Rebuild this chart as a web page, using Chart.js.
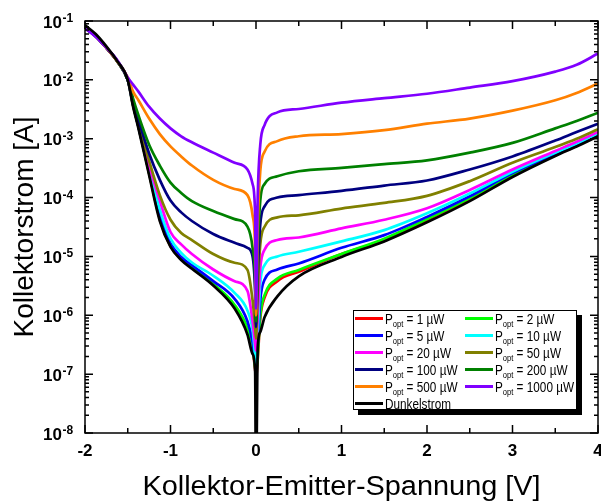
<!DOCTYPE html>
<html>
<head>
<meta charset="utf-8">
<script src="https://cdn.jsdelivr.net/npm/chart.js@4.4.1/dist/chart.umd.min.js"></script>
<style>
  html, body { margin: 0; padding: 0; background: #fff; }
</style>
</head>
<body>
<canvas id="c" width="601" height="503"></canvas>
<script>
// Kollektor-Emitter-Spannung [V]
const volts = [-2, -1.875, -1.75, -1.625, -1.5, -1.4375, -1.375, -1.25, -1.125, -1, -0.875, -0.75, -0.5, -0.25,
               -0.1, -0.04, -0.01, 0, 0.02, 0.05, 0.1, 0.25, 0.5, 1, 1.5, 2, 2.5, 3, 3.5, 3.75, 4];

// Kollektorstrom [A]
const p1 = [7.6e-2, 5.5e-2, 3.5e-2, 2.1e-2, 1.0e-2, 3.7e-3, 1.6e-3, 2.6e-4, 4.3e-5, 1.5e-5, 9.0e-6, 6.5e-6, 3.3e-6, 1.4e-6,
            5.6e-7, 2.6e-7, 1.2e-7, 8.9e-8, 1.8e-7, 8.9e-7, 2.0e-6, 3.8e-6, 5.5e-6, 1.1e-5, 1.9e-5, 4.2e-5, 9.5e-5, 2.4e-4, 5.25e-4, 7.6e-4, 1.12e-3];
const p2 = [7.6e-2, 5.5e-2, 3.5e-2, 2.1e-2, 1.0e-2, 3.7e-3, 1.6e-3, 2.6e-4, 4.5e-5, 1.55e-5, 9.2e-6, 6.6e-6, 3.4e-6, 1.5e-6,
            6.0e-7, 2.8e-7, 1.3e-7, 1.0e-7, 2.0e-7, 1.0e-6, 2.2e-6, 4.2e-6, 5.9e-6, 1.1e-5, 2.0e-5, 4.3e-5, 9.8e-5, 2.45e-4, 5.4e-4, 7.8e-4, 1.15e-3];
const p5 = [7.6e-2, 5.5e-2, 3.5e-2, 2.1e-2, 1.0e-2, 3.8e-3, 1.6e-3, 2.8e-4, 5.0e-5, 1.66e-5, 9.8e-6, 7.1e-6, 3.8e-6, 1.9e-6,
            7.9e-7, 3.5e-7, 1.6e-7, 1.3e-7, 3.2e-7, 1.8e-6, 4.0e-6, 6.0e-6, 7.6e-6, 1.4e-5, 2.3e-5, 4.7e-5, 1.05e-4, 2.6e-4, 5.5e-4, 7.9e-4, 1.17e-3];
const p10 = [7.6e-2, 5.5e-2, 3.5e-2, 2.1e-2, 1.0e-2, 3.9e-3, 1.7e-3, 3.2e-4, 6.3e-5, 2.0e-5, 1.15e-5, 7.9e-6, 4.7e-6, 2.4e-6,
             1.2e-6, 5.6e-7, 2.0e-7, 1.4e-7, 5.0e-7, 3.5e-6, 7.1e-6, 1.0e-5, 1.2e-5, 1.8e-5, 2.8e-5, 5.4e-5, 1.17e-4, 2.75e-4, 5.8e-4, 8.3e-4, 1.23e-3];
const p20 = [7.6e-2, 5.5e-2, 3.5e-2, 2.1e-2, 1.0e-2, 4.0e-3, 1.8e-3, 3.5e-4, 8.9e-5, 2.6e-5, 1.6e-5, 1.1e-5, 6.0e-6, 3.8e-6,
             2.6e-6, 7.9e-7, 3.2e-7, 2.5e-7, 1.0e-6, 6.3e-6, 1.3e-5, 1.9e-5, 2.1e-5, 3.0e-5, 4.2e-5, 6.6e-5, 1.35e-4, 3.0e-4, 6.2e-4, 8.9e-4, 1.3e-3];
const p50 = [7.6e-2, 5.5e-2, 3.5e-2, 2.1e-2, 1.0e-2, 4.2e-3, 1.9e-3, 4.2e-4, 1.1e-4, 4.2e-5, 2.5e-5, 1.9e-5, 1.1e-5, 7.8e-6,
             5.9e-6, 1.8e-6, 6.3e-7, 4.0e-7, 2.5e-6, 1.6e-5, 3.2e-5, 4.6e-5, 5.0e-5, 6.5e-5, 8.1e-5, 1.07e-4, 1.9e-4, 3.9e-4, 7.2e-4, 1.0e-3, 1.45e-3];
const p100 = [7.6e-2, 5.5e-2, 3.5e-2, 2.1e-2, 1.0e-2, 4.4e-3, 2.1e-3, 5.6e-4, 2.0e-4, 8.9e-5, 5.6e-5, 4.0e-5, 2.4e-5, 1.7e-5,
              1.4e-5, 1.0e-5, 2.5e-6, 6.3e-7, 5.0e-6, 3.5e-5, 7.1e-5, 1.0e-4, 1.1e-4, 1.3e-4, 1.6e-4, 1.95e-4, 3.0e-4, 5.0e-4, 9.3e-4, 1.3e-3, 1.8e-3];
const p200 = [7.9e-2, 5.5e-2, 3.5e-2, 2.1e-2, 1.0e-2, 4.8e-3, 2.5e-3, 7.9e-4, 3.5e-4, 1.8e-4, 1.2e-4, 8.7e-5, 5.9e-5, 4.3e-5,
              3.2e-5, 1.4e-5, 4.0e-6, 7.9e-7, 1.3e-5, 8.9e-5, 1.7e-4, 2.3e-4, 2.8e-4, 3.2e-4, 3.7e-4, 4.3e-4, 5.8e-4, 8.5e-4, 1.5e-3, 2.0e-3, 2.75e-3];
const p500 = [7.9e-2, 5.5e-2, 3.5e-2, 2.1e-2, 1.1e-2, 6.3e-3, 4.5e-3, 2.2e-3, 1.2e-3, 7.4e-4, 5.0e-4, 3.5e-4, 2.0e-4, 1.4e-4,
              1.1e-4, 5.0e-5, 1.3e-5, 1.0e-6, 3.2e-5, 2.8e-4, 6.0e-4, 9.1e-4, 1.1e-3, 1.2e-3, 1.4e-3, 1.8e-3, 2.2e-3, 3.0e-3, 4.5e-3, 6.0e-3, 8.7e-3];
const p1000 = [7.6e-2, 5.4e-2, 3.5e-2, 2.2e-2, 1.1e-2, 8.3e-3, 6.3e-3, 3.5e-3, 2.2e-3, 1.5e-3, 1.1e-3, 8.7e-4, 5.8e-4, 3.9e-4,
               3.0e-4, 1.7e-4, 5.0e-5, 1.3e-6, 1.0e-4, 7.9e-4, 1.7e-3, 2.8e-3, 3.2e-3, 4.1e-3, 4.9e-3, 5.8e-3, 7.4e-3, 9.5e-3, 1.38e-2, 1.8e-2, 2.8e-2];
const dark = [8.5e-2, 6.0e-2, 3.7e-2, 2.1e-2, 1.0e-2, 3.5e-3, 1.5e-3, 2.4e-4, 4.0e-5, 1.45e-5, 8.7e-6, 6.2e-6, 3.2e-6, 1.3e-6,
              4.7e-7, 2.2e-7, 1.1e-7, 1e-9, 2.8e-7, 5.2e-7, 9.3e-7, 2.1e-6, 4.6e-6, 9.8e-6, 1.8e-5, 3.8e-5, 8.7e-5, 2.24e-4, 5.1e-4, 7.4e-4, 1.1e-3];

const powers = [1, 2, 5, 10, 20, 50, 100, 200, 500, 1000];
const series = [p1, p2, p5, p10, p20, p50, p100, p200, p500, p1000];
const colors = ['#ff0000', '#00ff00', '#0000ff', '#00ffff', '#ff00ff', '#808000', '#000080', '#008000', '#ff8000', '#8000ff'];

const xTicks = [-2, -1, 0, 1, 2, 3, 4];
const yExps = [-8, -7, -6, -5, -4, -3, -2, -1];

const FONT = '"Liberation Sans", Arial, sans-serif';

const datasets = series.map((vals, i) => ({
  label: 'P_opt = ' + powers[i] + ' µW',
  data: volts.map((v, j) => ({ x: v, y: vals[j] })),
  borderColor: colors[i],
  order: 11 - i
}));
datasets.push({
  label: 'Dunkelstrom',
  data: volts.map((v, j) => ({ x: v, y: dark[j] })),
  borderColor: '#000000',
  order: 0
});

const decor = {
  id: 'decor',
  afterDatasetsDraw(chart) {
    const { ctx, chartArea: a } = chart;
    const sx = chart.scales.x, sy = chart.scales.y;
    ctx.save();
    ctx.strokeStyle = '#000';
    ctx.fillStyle = '#000';
    ctx.lineWidth = 1.5;

    // tick marks, pointing inward, on all four sides
    ctx.beginPath();
    for (let v = sx.min; v <= sx.max + 1e-9; v += 0.5) {
      const px = sx.getPixelForValue(v);
      const len = Number.isInteger(v) ? 8 : 5;
      ctx.moveTo(px, a.bottom); ctx.lineTo(px, a.bottom - len);
      ctx.moveTo(px, a.top); ctx.lineTo(px, a.top + len);
    }
    for (const e of yExps) {
      for (let m = 1; m <= 9; m++) {
        const v = m * Math.pow(10, e);
        if (v > sy.max * 1.0001) break;
        const py = sy.getPixelForValue(v);
        const len = m === 1 ? 8 : 4;
        ctx.moveTo(a.left, py); ctx.lineTo(a.left + len, py);
        ctx.moveTo(a.right, py); ctx.lineTo(a.right - len, py);
      }
    }
    ctx.stroke();
    ctx.strokeRect(a.left, a.top, a.right - a.left, a.bottom - a.top);

    // x tick labels
    ctx.font = 'bold 17px ' + FONT;
    ctx.textAlign = 'center';
    ctx.textBaseline = 'alphabetic';
    xTicks.forEach(t => ctx.fillText(String(t), sx.getPixelForValue(t), 456));

    // y tick labels 10^e
    yExps.forEach(e => {
      const py = sy.getPixelForValue(Math.pow(10, e));
      ctx.font = 'bold 17px ' + FONT;
      ctx.textAlign = 'right';
      ctx.fillText('10', 62, py + 6.5);
      ctx.font = 'bold 12px ' + FONT;
      ctx.textAlign = 'left';
      ctx.fillText(String(e), 62.5, py + 1);
    });

    // axis titles
    ctx.font = '27px ' + FONT;
    ctx.textAlign = 'center';
    ctx.save();
    ctx.translate((a.left + a.right) / 2, 495);
    ctx.scale(1.07, 1);
    ctx.fillText('Kollektor-Emitter-Spannung [V]', 0, 0);
    ctx.restore();
    ctx.save();
    ctx.font = '28px ' + FONT;
    ctx.translate(33, (a.top + a.bottom) / 2);
    ctx.rotate(-Math.PI / 2);
    ctx.fillText('Kollektorstrom [A]', 0, 0);
    ctx.restore();

    // legend with shadow
    const L = 353, T = 310, R = 577, B = 410;
    ctx.fillRect(R, T + 5, 5, B - T);
    ctx.fillRect(L + 5, B, R - L, 5);
    ctx.fillStyle = '#fff';
    ctx.fillRect(L, T, R - L, B - T);
    ctx.lineWidth = 1;
    ctx.strokeRect(L + 0.5, T + 0.5, R - L - 1, B - T - 1);
    ctx.textAlign = 'left';
    datasets.forEach((d, i) => {
      const row = Math.floor(i / 2), col = i % 2;
      const cy = 318.5 + row * 17;
      const x0 = col === 0 ? 355 : 465;
      ctx.strokeStyle = d.borderColor;
      ctx.lineWidth = 3;
      ctx.beginPath();
      ctx.moveTo(x0, cy); ctx.lineTo(x0 + 28, cy);
      ctx.stroke();
      ctx.fillStyle = '#000';
      ctx.save();
      ctx.translate(x0 + 30, cy + 5);
      ctx.scale(0.84, 1);
      ctx.font = '14px ' + FONT;
      if (d.label.startsWith('P_opt')) {
        let tx = 0;
        ctx.fillText('P', tx, 0);
        tx += ctx.measureText('P').width;
        ctx.font = '9px ' + FONT;
        ctx.fillText('opt', tx, 3);
        tx += ctx.measureText('opt').width;
        ctx.font = '14px ' + FONT;
        ctx.fillText(d.label.slice(5), tx, 0);
      } else {
        ctx.fillText(d.label, 0, 0);
      }
      ctx.restore();
    });
    ctx.restore();
  }
};

new Chart(document.getElementById('c'), {
  type: 'line',
  data: { datasets },
  options: {
    responsive: false,
    devicePixelRatio: 1,
    animation: false,
    layout: { padding: { left: 0, top: 21, right: 3, bottom: 0 } },
    elements: {
      line: { borderWidth: 2.7, cubicInterpolationMode: 'monotone', fill: false },
      point: { radius: 0 }
    },
    plugins: { legend: { display: false }, tooltip: { enabled: false } },
    scales: {
      x: {
        type: 'linear', min: -2, max: 4,
        grid: { display: false }, border: { display: false },
        ticks: { display: false },
        afterFit: s => { s.height = 70; }
      },
      y: {
        type: 'logarithmic', min: 1e-8, max: 1e-1,
        grid: { display: false }, border: { display: false },
        ticks: { display: false },
        afterFit: s => { s.width = 85; }
      }
    }
  },
  plugins: [decor]
});
</script>
</body>
</html>
